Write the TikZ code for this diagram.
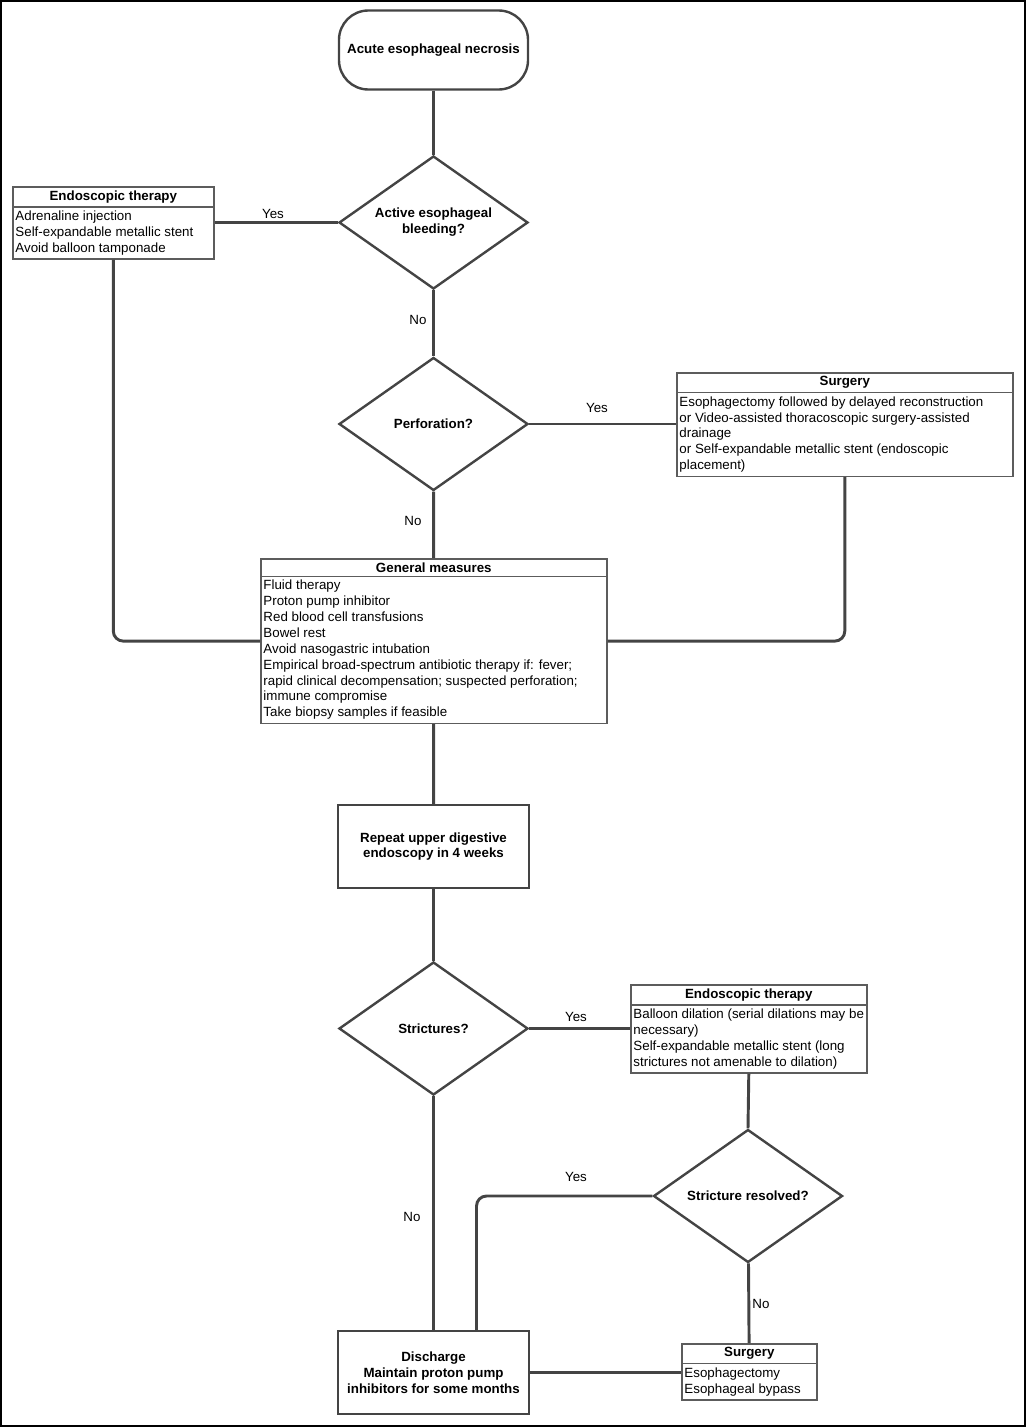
\documentclass[tikz,border=0pt]{standalone}
\usepackage{fontspec}
\setmainfont{Liberation Sans}
\usetikzlibrary{shapes.geometric,shapes.multipart}

\definecolor{linegray}{RGB}{68,68,68}
\definecolor{boxgray}{RGB}{92,92,92}

\tikzset{every picture/.style={line width=0.75pt}}
\tikzset{
  startbox/.style={draw=linegray, line width=1.8pt, rounded corners=22pt, minimum width=141.75pt, minimum height=59.25pt, font=\bfseries\fontsize{10}{11.9}\selectfont},
  query/.style={diamond, aspect=1.42, draw=linegray, line width=1.8pt, minimum width=141.75pt, minimum height=99.75pt, inner sep=0pt, align=center, font=\bfseries\fontsize{10}{11.9}\selectfont},
  actionbox/.style={draw=linegray, line width=1.8pt, minimum width=143.25pt, minimum height=62.25pt, align=center, font=\bfseries\fontsize{10}{11.9}\selectfont},
  listbox/.style={rectangle split, rectangle split parts=2, rectangle split part align={center,left}, draw=boxgray, line width=1.2pt, inner xsep=2pt, inner ysep=2.3pt, align=left, font=\fontsize{10}{11.9}\selectfont},
  conn/.style={draw=linegray, line width=2.2pt, rounded corners=7.5pt},
  answer/.style={inner sep=0.75pt, font=\fontsize{10}{11.9}\selectfont}
}

\begin{document}
\begin{tikzpicture}[x=0.75pt,y=0.75pt,yscale=-1,xscale=1]
\useasboundingbox (0,0) rectangle (1026,1427);
%Shape: Frame
\draw [line width=1.5pt] (1,1) rectangle (1025,1426);

%Shape: Terminal
\node [startbox] (start) at (433.5,50) {Acute esophageal necrosis};
%Shape: Diamond
\node [query] (bleed) at (433.5,222.5) {Active esophageal\\bleeding?};
%Shape: Diamond
\node [query] (perf) at (433.5,424) {Perforation?};
%Shape: Rectangle
\node [listbox, minimum width=150.75pt, anchor=north west] (endoA) at (12,186) {\textbf{Endoscopic therapy}\nodepart{two}Adrenaline injection\\Self-expandable metallic stent\\Avoid balloon tamponade};
%Shape: Rectangle
\node [listbox, minimum width=252pt, anchor=north west] (surg) at (676,372) {\textbf{Surgery}\nodepart{two}Esophagectomy followed by delayed reconstruction\\or Video-assisted thoracoscopic surgery-assisted\\drainage\\or Self-expandable metallic stent (endoscopic\\placement)};
%Shape: Rectangle
\node [listbox, minimum width=259.5pt, anchor=north west] (gen) at (260,558) {\textbf{General measures}\nodepart{two}Fluid therapy\\Proton pump inhibitor\\Red blood cell transfusions\\Bowel rest\\Avoid nasogastric intubation\\Empirical broad-spectrum antibiotic therapy if: fever;\\rapid clinical decompensation; suspected perforation;\\immune compromise\\Take biopsy samples if feasible};
%Shape: Rectangle
\node [actionbox] (repeat) at (433.5,846.5) {Repeat upper digestive\\endoscopy in 4 weeks};
%Shape: Diamond
\node [query] (strict) at (433.5,1028.5) {Strictures?};
%Shape: Rectangle
\node [listbox, minimum width=177pt, anchor=north west] (endoB) at (630,984) {\textbf{Endoscopic therapy}\nodepart{two}Balloon dilation (serial dilations may be\\necessary)\\Self-expandable metallic stent (long\\strictures not amenable to dilation)};
%Shape: Diamond
\node [query] (resolved) at (748,1196) {Stricture resolved?};
%Shape: Rectangle
\node [actionbox] (dis) at (433.5,1372.5) {Discharge\\Maintain proton pump\\inhibitors for some months};
%Shape: Rectangle
\node [listbox, minimum width=101.25pt, anchor=north west] (surgB) at (681,1343) {\textbf{Surgery}\nodepart{two}Esophagectomy\\Esophageal bypass};

%Straight Lines
\draw [conn] (start) -- (bleed);
\draw [conn] (bleed.west) -- (bleed.west -| endoA.east);
\draw [conn] (bleed) -- (perf);
\draw [conn] (perf.east) -- (perf.east -| surg.west);
\draw [conn] (perf) -- (gen);
\draw [conn] (endoA.south) |- (gen.west);
\draw [conn] (surg.south) |- (gen.east);
\draw [conn] (gen) -- (repeat);
\draw [conn] (repeat) -- (strict);
\draw [conn] (strict.east) -- (strict.east -| endoB.west);
\draw [conn] (endoB.south) -- (resolved.north);
\draw [conn] (resolved.west) -| ([xshift=32.25pt]dis.north);
\draw [conn] (strict) -- (dis);
\draw [conn] (resolved) -- (surgB);
\draw [conn] (dis.east) -- (dis.east -| surgB.west);

% Text Node
\node [answer] (yesA) at (273,214) {Yes};
% Text Node
\node [answer] (noA) at (418,320) {No};
% Text Node
\node [answer] (yesB) at (597,408) {Yes};
% Text Node
\node [answer] (noB) at (413,521) {No};
% Text Node
\node [answer] (yesC) at (576,1017) {Yes};
% Text Node
\node [answer] (yesD) at (576,1177) {Yes};
% Text Node
\node [answer] (noC) at (412,1217) {No};
% Text Node
\node [answer] (noD) at (761,1304) {No};

\end{tikzpicture}
\end{document}
